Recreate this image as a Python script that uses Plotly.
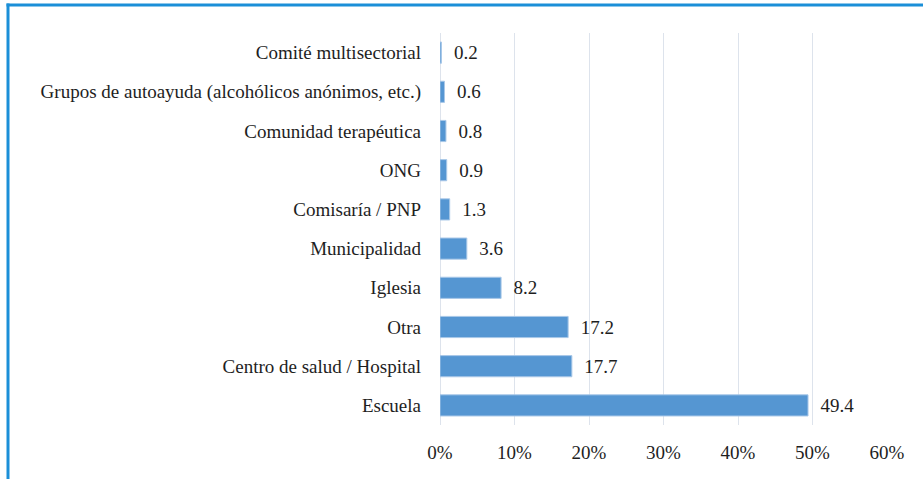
import plotly.graph_objects as go

categorias = [
    "Escuela",
    "Centro de salud / Hospital",
    "Otra",
    "Iglesia",
    "Municipalidad",
    "Comisaría / PNP",
    "ONG",
    "Comunidad terapéutica",
    "Grupos de autoayuda (alcohólicos anónimos, etc.)",
    "Comité multisectorial",
]
porcentajes = [49.4, 17.7, 17.2, 8.2, 3.6, 1.3, 0.9, 0.8, 0.6, 0.2]
ticks_x = [0, 10, 20, 30, 40, 50, 60]
ticks_x_texto = ["0%", "10%", "20%", "30%", "40%", "50%", "60%"]

BAR_COLOR = "#5596d2"
GRID_COLOR = "#dde3ec"
TEXT_COLOR = "#1e1e1e"
FRAME_COLOR = "#1b8fd8"
FONT = "Liberation Serif"
FSIZE = 19

W, H = 923, 479
L, R, T, B = 440, 36, 33, 54
pw, ph = W - L - R, H - T - B

fig = go.Figure(
    go.Bar(
        x=porcentajes,
        y=categorias,
        orientation="h",
        width=0.54,
        marker=dict(color=BAR_COLOR, line=dict(color="#a9c8e8", width=1)),
        text=[f"  {v:.1f}" for v in porcentajes],
        textposition="outside",
        textfont=dict(family=FONT, size=FSIZE, color=TEXT_COLOR),
        cliponaxis=False,
    )
)

fig.update_layout(
    width=W,
    height=H,
    margin=dict(l=L, r=R, t=T, b=B, autoexpand=False),
    paper_bgcolor="white",
    plot_bgcolor="white",
    font=dict(family=FONT, size=FSIZE, color=TEXT_COLOR),
    showlegend=False,
    xaxis=dict(
        range=[0, 60],
        tickvals=ticks_x,
        ticktext=ticks_x_texto,
        showgrid=True,
        gridcolor=GRID_COLOR,
        gridwidth=1,
        zeroline=True,
        zerolinecolor=GRID_COLOR,
        zerolinewidth=1,
        ticks="",
        automargin=False,
        ticklabelstandoff=14,
        tickfont=dict(family=FONT, size=FSIZE, color=TEXT_COLOR),
    ),
    yaxis=dict(
        range=[-0.5, 9.5],
        showgrid=False,
        ticks="",
        automargin=False,
        ticklabelstandoff=18,
        tickfont=dict(family=FONT, size=FSIZE, color=TEXT_COLOR),
    ),
    uniformtext=dict(minsize=FSIZE, mode="show"),
)

# marco azul (bordes izquierdo y superior)
x_marco = (8 - L) / pw
y_marco = 1 + (T - 5) / ph
fig.add_shape(
    type="line", xref="paper", yref="paper",
    x0=x_marco, x1=x_marco,
    y0=y_marco + 1.5 / ph, y1=-(B + 5) / ph,
    line=dict(color=FRAME_COLOR, width=3),
)
fig.add_shape(
    type="line", xref="paper", yref="paper",
    x0=x_marco - 1.5 / pw, x1=(W - L + 5) / pw,
    y0=y_marco, y1=y_marco,
    line=dict(color=FRAME_COLOR, width=3),
)

fig.write_html(
    "out.html",
    config={"displayModeBar": False},
    post_script="document.body.style.margin='0';",
)
